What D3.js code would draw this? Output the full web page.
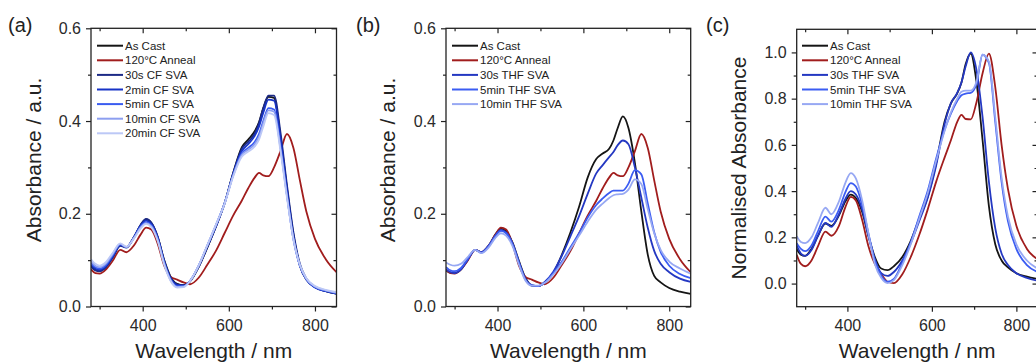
<!DOCTYPE html>
<html><head><meta charset="utf-8">
<script src="https://cdn.jsdelivr.net/npm/d3@7"></script>
<style>body{margin:0;background:#fff;} svg{display:block;font-family:"Liberation Sans",Arial,sans-serif;}</style>
</head><body><svg id="chart" width="1036" height="362"></svg>
<script>
// ---------- data ----------
const wavelength = [280,290,300,315,330,348,362,380,395,408,420,435,450,465,480,495,510,530,550,570,590,610,630,645,660,670,680,692,705,720,735,750,765,780,800,825,850];

const xTicks = [400,600,800];
const xMinor = [300,500,700];
const yTicksAB = [0,0.2,0.4,0.6];
const yMinorAB = [0.1,0.3,0.5];
const yTicksC = [0,0.2,0.4,0.6,0.8,1.0];
const yMinorC = [0.1,0.3,0.5,0.7,0.9];

// panel (a)
const aAsCast  = [.088,.080,.077,.086,.106,.132,.128,.150,.175,.188,.180,.150,.100,.064,.049,.046,.054,.085,.127,.172,.222,.288,.343,.360,.378,.397,.428,.452,.450,.365,.255,.155,.088,.058,.042,.033,.028];
const anneal   = [.080,.072,.071,.080,.098,.122,.117,.132,.155,.170,.166,.135,.088,.064,.058,.052,.048,.062,.090,.120,.158,.196,.228,.255,.278,.288,.283,.281,.300,.335,.372,.342,.272,.205,.146,.102,.074];
const aCF30s   = [.086,.078,.076,.085,.105,.131,.127,.150,.176,.189,.181,.150,.098,.062,.048,.046,.055,.086,.128,.172,.222,.287,.340,.355,.373,.395,.428,.455,.455,.375,.262,.160,.092,.060,.042,.033,.028];
const aCF2min  = [.090,.082,.079,.088,.108,.133,.128,.150,.174,.185,.178,.148,.097,.060,.046,.045,.055,.087,.130,.174,.222,.285,.335,.350,.368,.388,.418,.446,.444,.360,.250,.150,.088,.058,.041,.033,.028];
const aCF5min  = [.094,.085,.082,.090,.110,.134,.128,.149,.172,.182,.175,.145,.094,.058,.044,.044,.055,.088,.131,.175,.222,.283,.330,.342,.355,.372,.400,.428,.425,.345,.240,.145,.088,.059,.042,.034,.029];
const aCF10min = [.098,.088,.085,.093,.113,.135,.128,.148,.170,.180,.173,.143,.092,.056,.042,.043,.055,.088,.132,.176,.222,.282,.327,.338,.350,.366,.395,.423,.420,.340,.238,.145,.089,.060,.043,.035,.030];
const aCF20min = [.102,.092,.088,.096,.115,.136,.129,.147,.168,.178,.171,.141,.090,.055,.041,.042,.055,.088,.132,.176,.221,.280,.323,.334,.345,.360,.388,.417,.413,.335,.235,.145,.090,.061,.044,.036,.031];

// panel (b)
const bAsCast   = [.078,.073,.072,.080,.100,.122,.117,.132,.155,.168,.162,.138,.098,.062,.045,.044,.052,.072,.112,.160,.215,.278,.318,.330,.340,.358,.385,.410,.385,.310,.205,.112,.066,.052,.040,.032,.027];
const bTHF30s   = [.080,.074,.072,.080,.100,.122,.117,.132,.153,.165,.160,.136,.096,.060,.046,.044,.053,.075,.110,.152,.195,.243,.287,.305,.322,.333,.348,.358,.350,.300,.235,.170,.120,.092,.074,.060,.053];
const bTHF5min  = [.085,.078,.076,.083,.102,.122,.116,.131,.152,.163,.158,.134,.094,.058,.045,.044,.051,.072,.097,.128,.158,.192,.219,.233,.245,.250,.250,.250,.265,.294,.285,.222,.160,.118,.088,.070,.061];
const bTHF10min = [.095,.090,.088,.092,.106,.122,.115,.128,.148,.158,.153,.130,.090,.056,.045,.045,.051,.069,.094,.124,.153,.183,.209,.222,.234,.240,.242,.243,.252,.274,.264,.210,.158,.122,.097,.082,.071];

// panel (c) normalised
const cAsCast   = [.150,.125,.120,.150,.205,.260,.250,.295,.355,.385,.370,.310,.205,.115,.065,.058,.075,.115,.185,.280,.375,.520,.700,.780,.823,.870,.950,.995,.880,.620,.335,.170,.100,.070,.045,.030,.020];
const cAnneal   = [.125,.085,.075,.100,.160,.225,.207,.250,.330,.375,.360,.275,.160,.085,.042,.008,.002,.040,.115,.210,.320,.440,.545,.620,.700,.730,.712,.710,.780,.910,.995,.850,.600,.410,.250,.150,.105];
const cTHF30s   = [.165,.130,.120,.145,.205,.262,.245,.300,.365,.400,.385,.320,.205,.105,.045,.033,.050,.100,.175,.270,.370,.510,.690,.780,.825,.870,.940,1.000,.930,.720,.440,.240,.130,.080,.045,.025,.012];
const cTHF5min  = [.175,.150,.140,.165,.225,.290,.268,.320,.395,.435,.420,.340,.215,.100,.035,.008,.020,.090,.180,.290,.400,.540,.665,.735,.790,.815,.822,.825,.860,.990,.955,.700,.440,.270,.150,.080,.050];
const cTHF10min = [.205,.180,.175,.200,.260,.328,.300,.355,.435,.478,.455,.360,.215,.085,.025,.002,.015,.080,.170,.280,.390,.530,.660,.740,.800,.830,.835,.835,.870,.990,.960,.720,.460,.290,.170,.100,.065];

const namesA = ["As Cast","120°C Anneal","30s CF SVA","2min CF SVA","5min CF SVA","10min CF SVA","20min CF SVA"];
const namesB = ["As Cast","120°C Anneal","30s THF SVA","5min THF SVA","10min THF SVA"];

const colorsA = ["#151515","#a11d1d","#1c2a86","#1733c6","#3a5cf0","#8d9ff0","#bcc8f6"];
const colorsB = ["#151515","#a11d1d","#2438c2","#3b5cf2","#97a8f3"];

// ---------- drawing ----------
const svg = d3.select("#chart");
const fmt1 = d3.format(".1f");

const panels = [
  {label:"(a)", lx:8, x0:91, x1:336.5, y0:28.3, y1:306.5, yDomain:[0,0.6], yTicks:yTicksAB, yMinor:yMinorAB,
   yTitle:"Absorbance / a.u.", yTitleX:33, yTitleY:160, legX:97,
   names:namesA, colors:colorsA, data:[aAsCast,anneal,aCF30s,aCF2min,aCF5min,aCF10min,aCF20min]},
  {label:"(b)", lx:356, x0:446, x1:690.7, y0:28.3, y1:306.5, yDomain:[0,0.6], yTicks:yTicksAB, yMinor:yMinorAB,
   yTitle:"Absorbance / a.u.", yTitleX:387, yTitleY:160, legX:452,
   names:namesB, colors:colorsB, data:[bAsCast,anneal,bTHF30s,bTHF5min,bTHF10min]},
  {label:"(c)", lx:706, x0:796.7, x1:1037.5, y0:29.3, y1:306.7, yDomain:[-0.1,1.1], yTicks:yTicksC, yMinor:yMinorC,
   yTitle:"Normalised Absorbance", yTitleX:738, yTitleY:168, legX:802,
   names:namesB, colors:colorsB, data:[cAsCast,cAnneal,cTHF30s,cTHF5min,cTHF10min]}
];

panels.forEach((p,pi) => {
  const x = d3.scaleLinear().domain([280,850]).range([p.x0,p.x1]);
  const y = d3.scaleLinear().domain(p.yDomain).range([p.y1,p.y0]);
  const g = svg.append("g");

  const clipId = "clip"+pi;
  svg.append("clipPath").attr("id",clipId).append("rect")
    .attr("x",p.x0).attr("y",p.y0).attr("width",p.x1-p.x0).attr("height",p.y1-p.y0);

  const line = d3.line().x((d,i)=>x(wavelength[i])).y(d=>y(d)).curve(d3.curveMonotoneX);
  const curves = g.append("g").attr("clip-path",`url(#${clipId})`);
  p.data.forEach((vals,k) => {
    curves.append("path").attr("d",line(vals)).attr("fill","none")
      .attr("stroke",p.colors[k]).attr("stroke-width",1.8).attr("stroke-linejoin","round");
  });

  // axes
  const styleAxis = sel => {
    sel.select(".domain").remove();
    sel.selectAll(".tick line").attr("stroke","#222").attr("stroke-width",1.2);
    sel.selectAll("text").attr("fill","#2a2a2a").style("font-size","16px")
       .style("font-family","'Liberation Sans',Arial,sans-serif");
  };
  g.append("g").attr("transform",`translate(0,${p.y1})`)
    .call(d3.axisBottom(x).tickValues(xTicks).tickSize(5).tickPadding(8).tickFormat(d3.format("d"))).call(styleAxis);
  g.append("g").attr("transform",`translate(0,${p.y1})`)
    .call(d3.axisBottom(x).tickValues(xMinor).tickSize(3).tickFormat("")).call(styleAxis);
  g.append("g").attr("transform",`translate(0,${p.y0})`)
    .call(d3.axisTop(x).tickValues(xTicks).tickSize(-5).tickFormat("")).call(styleAxis);
  g.append("g").attr("transform",`translate(0,${p.y0})`)
    .call(d3.axisTop(x).tickValues(xMinor).tickSize(-3).tickFormat("")).call(styleAxis);
  g.append("g").attr("transform",`translate(${p.x0},0)`)
    .call(d3.axisLeft(y).tickValues(p.yTicks).tickSize(5).tickPadding(5).tickFormat(fmt1)).call(styleAxis);
  g.append("g").attr("transform",`translate(${p.x0},0)`)
    .call(d3.axisLeft(y).tickValues(p.yMinor).tickSize(3).tickFormat("")).call(styleAxis);
  g.append("g").attr("transform",`translate(${p.x1},0)`)
    .call(d3.axisRight(y).tickValues(p.yTicks).tickSize(-5).tickFormat("")).call(styleAxis);
  g.append("g").attr("transform",`translate(${p.x1},0)`)
    .call(d3.axisRight(y).tickValues(p.yMinor).tickSize(-3).tickFormat("")).call(styleAxis);

  // frame
  g.append("rect").attr("x",p.x0).attr("y",p.y0).attr("width",p.x1-p.x0).attr("height",p.y1-p.y0)
    .attr("fill","none").attr("stroke","#222").attr("stroke-width",1.3);

  // legend
  const leg = g.append("g");
  p.names.forEach((nm,k) => {
    const ly = 45.7 + k*14.6;
    leg.append("line").attr("x1",p.legX).attr("x2",p.legX+26).attr("y1",ly).attr("y2",ly)
      .attr("stroke",p.colors[k]).attr("stroke-width",2);
    leg.append("text").attr("x",p.legX+28).attr("y",ly).attr("dominant-baseline","central")
      .attr("fill","#222").style("font-size","11.5px").text(nm);
  });

  // titles
  g.append("text").attr("x",(p.x0+p.x1)/2).attr("y",358).attr("text-anchor","middle")
    .attr("fill","#222").style("font-size","21px").text("Wavelength / nm");
  g.append("text").attr("transform",`translate(${p.yTitleX},${p.yTitleY}) rotate(-90)`)
    .attr("text-anchor","middle").attr("dominant-baseline","central")
    .attr("fill","#222").style("font-size","21px").text(p.yTitle);
  g.append("text").attr("x",p.lx).attr("y",32).attr("fill","#222").style("font-size","20px").text(p.label);
});
</script></body></html>
